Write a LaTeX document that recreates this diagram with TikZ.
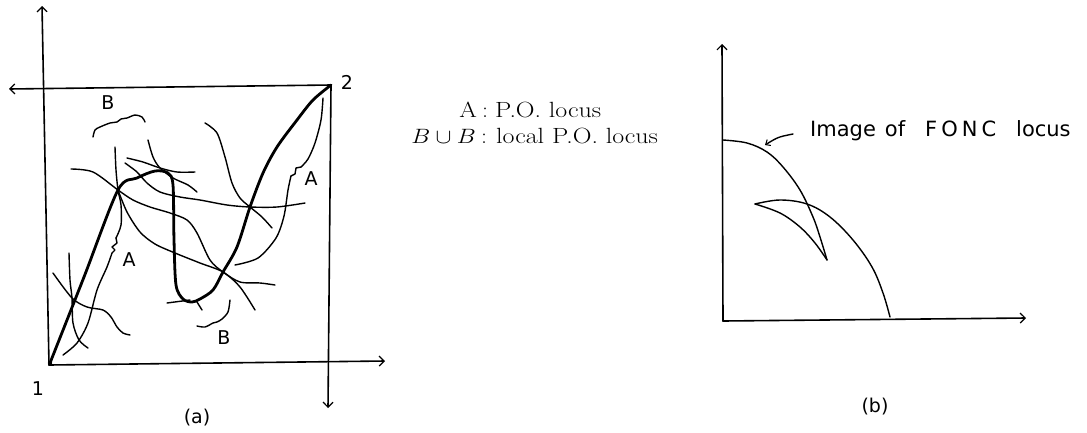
\documentclass[tikz,border=0pt]{standalone}
\usepackage{fontspec}
\newfontfamily\handfont{DejaVu Sans}
\usetikzlibrary{arrows.meta}
\begin{document}
\begin{tikzpicture}[x=1pt,y=-1pt,
  ax/.style={line width=1.6pt,line cap=round},
  barb/.style={-{Straight Barb[length=5pt,width=10pt,line width=1.2pt]}},
  thinc/.style={line width=1.4pt,line cap=round,line join=round},
  thickc/.style={line width=2.8pt,line cap=round,line join=round},
  hand/.style={font=\handfont\fontsize{19}{21}\selectfont,inner sep=0pt},
  printed/.style={font=\rmfamily\fontsize{22}{26}\selectfont,inner sep=0pt}]
\useasboundingbox (0,0) rectangle (1087,432);

% ---------- panel (a) ----------
\coordinate (c1) at (50,363);
\coordinate (c2) at (331,85);
\draw[ax,barb] (49,365) -- (42,6);
\draw[ax,barb] (c2) -- (9,89);
\draw[ax,barb] (c2) -- (328,408);
\draw[ax,barb] (49,365) -- (385,361);
\fill (c1) circle (2.2pt);

% main P.O. locus (thick)
\draw[thickc] plot[smooth,tension=0.5] coordinates {(50,363) (84,277) (118,190) (137,178) (155,171) (168,173) (173,185) (174,240) (176,285) (183,299) (192,302) (200,299) (213,290) (223,272) (237,247) (250,207) (263,173) (277,147) (297,120) (313,100) (331,85)};

% thin A branch, left lens
\draw[thinc] plot[smooth,tension=0.5] coordinates {(63,355) (77,343) (88,323) (97,290) (107,267) (112,253)};
\draw[thinc] (112,253) -- (115,250) -- (112,247) -- (117,243) -- (116,238);
\draw[thinc] plot[smooth,tension=0.5] coordinates {(116,238) (121,225) (121,205) (118,190) (116,170) (115,147)};

% thin A branch, right lens
\draw[thinc] plot[smooth,tension=0.5] coordinates {(235,265) (258,258) (276,238) (284,216) (288,190) (291,176)};
\draw[thinc] (291,176) -- (295,174) -- (296,168) -- (301,167);
\draw[thinc] plot[smooth,tension=0.5] coordinates {(301,167) (308,159) (315,143) (321,120) (323,98)};

% curves through the lower-left crossing
\draw[thinc] plot[smooth,tension=0.5] coordinates {(69,253) (70,280) (72,298) (73,323) (79,340) (88,348)};
\draw[thinc] plot[smooth,tension=0.5] coordinates {(53,273) (72,298) (87,307) (103,310) (111,317) (117,327) (123,333) (130,335)};

% curves through the upper-left crossing
\draw[thinc] plot[smooth,tension=0.5] coordinates {(71,169) (93,172) (118,190) (133,200) (150,207) (170,213) (187,220) (197,233) (210,260) (223,272) (240,282) (260,283) (275,285)};
\draw[thinc] plot[smooth,tension=0.5] coordinates {(118,190) (127,212) (140,232) (155,244) (175,253) (200,263) (223,272) (240,287) (255,310)};

% curves near the top centre
\draw[thinc] plot[smooth,tension=0.5] coordinates {(148,140) (153,157) (160,168) (173,178) (188,185) (197,192)};
\draw[thinc] plot[smooth,tension=0.5] coordinates {(127,158) (143,162) (160,168) (177,172) (195,172)};
\draw[thinc] plot[smooth,tension=0.5] coordinates {(125,163) (137,172) (147,183) (160,192) (180,197) (200,200) (227,205) (250,207) (277,207) (305,203)};
\draw[thinc] plot[smooth,tension=0.5] coordinates {(205,123) (217,133) (225,157) (232,183) (240,198) (250,207) (262,217) (272,228)};

% small crossing at the bottom of the loop
\draw[thinc] (167,303) -- (190,300);
\draw[thinc] (197,302) -- (202,310);

% braces for B
\draw[thinc] plot[smooth,tension=0.5] coordinates {(93,137) (95,130) (100,127) (110,123) (117,122) (121,119) (127,118) (135,115) (142,117) (145,122)};
\draw[thinc] plot[smooth,tension=0.5] coordinates {(197,326) (205,327) (213,323) (217,322) (222,319) (228,312) (230,300)};

% labels of panel (a)
\node[hand] (l1) at (38,389) {1};
\node[hand] (l2) at (347,82) {2};
\node[hand] (lBt) at (108,103) {B};
\node[hand] (lBb) at (224,338) {B};
\node[hand] (lAl) at (129,260) {A};
\node[hand] (lAr) at (311,179) {A};
\node[hand] (la) at (197,418) {(a)};

% ---------- legend ----------
\node[printed,anchor=base east] (legAk) at (477,117) {\scalebox{1.15}[1]{A}};
\node[printed,anchor=base] (legAc) at (485,117) {:};
\node[printed,anchor=base west] (legAv) at (495,117) {\scalebox{1.18}[1]{P.O. locus}};
\node[printed,anchor=base east] (legBk) at (476,143) {\scalebox{1.15}[1]{$B\cup B$}};
\node[printed,anchor=base] (legBc) at (484,143) {:};
\node[printed,anchor=base west] (legBv) at (496,143) {\scalebox{1.18}[1]{local P.O. locus}};

% ---------- panel (b) ----------
\draw[ax,barb] (723,321) -- (722,44);
\draw[ax,barb] (723,321) -- (1026,318);
\draw[thinc] plot[smooth,tension=0.6] coordinates {(723,140) (747,143) (767,152) (783,167) (800,190) (813,217) (820,237) (827,260)};
\draw[thinc] plot[smooth,tension=0.6] coordinates {(827,260) (815,243) (800,227) (780,213) (755,204)};
\draw[thinc] plot[smooth,tension=0.6] coordinates {(755,204) (780,200) (807,204) (830,217) (853,240) (872,267) (883,293) (890,317)};

\node[hand,font=\handfont\fontsize{21}{23}\selectfont,anchor=base west] (fonc) at (810,136) {Image\hspace{9pt}of\hspace{20pt}F\kern4pt O\kern4pt N\kern4pt C\hspace{20pt}locus};
\coordinate (fonctail) at (793,134);
\coordinate (fonctip) at (765,145);
\draw[thinc,-{Straight Barb[length=4pt,width=7pt,line width=1pt]}] (fonctail) .. controls (778,137) .. (fonctip);
\node[hand] (lb) at (875,407) {(b)};
\end{tikzpicture}
\end{document}
